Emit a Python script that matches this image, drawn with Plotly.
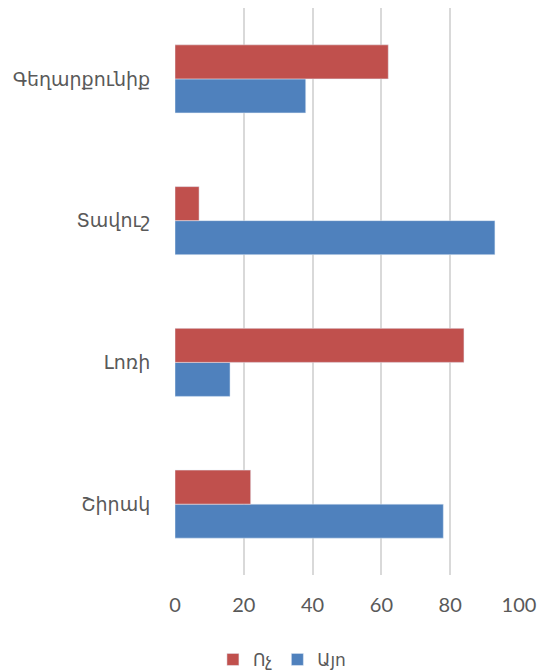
import plotly.graph_objects as go

categories = ["Շիրակ", "Լոռի", "Տավուշ", "Գեղարքունիք"]
ayo = [78, 16, 93, 38]
voch = [22, 84, 7, 62]
tick_vals = [0, 20, 40, 60, 80, 100]

fig = go.Figure()
fig.add_trace(go.Bar(y=categories, x=ayo, name="Այո", orientation="h",
                     marker_color="#4f81bd"))
fig.add_trace(go.Bar(y=categories, x=voch, name="Ոչ", orientation="h",
                     marker_color="#c0504d"))

font_fam = "Lato, Noto Sans, DejaVu Sans, sans-serif"
fig.update_layout(
    width=537, height=672,
    margin=dict(l=175, r=18, t=8, b=97, autoexpand=False),
    barmode="group", bargap=0.52, bargroupgap=0,
    plot_bgcolor="white", paper_bgcolor="white",
    font=dict(family=font_fam, color="#595959", size=19),
    legend=dict(orientation="h", xref="container", yref="container",
                x=0.525, xanchor="center", y=0.018, yanchor="middle",
                traceorder="reversed", font=dict(size=17), itemwidth=30),
    xaxis=dict(range=[0, 100], tickvals=tick_vals, showgrid=True, gridcolor="#d9d9d9",
               gridwidth=2, zeroline=False, ticks="outside", ticklen=12,
               tickcolor="rgba(0,0,0,0)", showline=False, automargin=False,
               tickfont=dict(size=20)),
    yaxis=dict(ticks="outside", ticklen=20, tickcolor="rgba(0,0,0,0)", showgrid=False,
               zeroline=False, showline=False, automargin=False,
               tickfont=dict(size=19)),
)
fig.write_html("out.html", config={"displayModeBar": False},
               post_script="document.body.style.margin='0';document.body.style.overflow='hidden';")
